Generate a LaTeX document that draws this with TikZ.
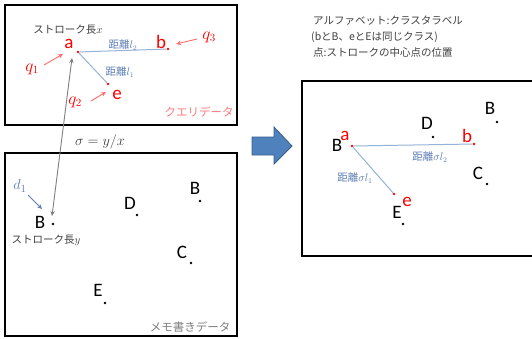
\documentclass[tikz,border=0pt]{standalone}
\usepackage{fontspec}
\setmainfont{Carlito}
\newfontfamily\jp{Noto Sans CJK JP}
\usetikzlibrary{arrows.meta}
\definecolor{pinkarrow}{HTML}{FF6B6B}
\definecolor{pinktext}{HTML}{FF7C80}
\definecolor{lineblue}{HTML}{95B3D7}
\definecolor{lblblue}{HTML}{5B7DB4}
\definecolor{dgray}{HTML}{404040}
\definecolor{mgray}{HTML}{7F7F7F}
\definecolor{arrowblue}{HTML}{4F81BD}
\definecolor{arrowedge}{HTML}{385D8A}
\begin{document}
\begin{tikzpicture}[x=1pt,y=-1pt,
  frame/.style={draw=black,line width=1.6pt},
  dotk/.style={circle,fill=black,inner sep=0pt,minimum size=2.6pt},
  dotr/.style={circle,fill=red,inner sep=0pt,minimum size=2.8pt},
  big/.style={inner sep=0pt,font=\fontsize{19}{19}\selectfont},
  redlbl/.style={big,text=red},
  qlbl/.style={inner sep=0pt,text=red,font=\fontsize{16}{16}\selectfont},
  dist/.style={inner sep=0pt,text=lblblue,font=\jp\fontsize{10.5}{10.5}\selectfont},
  note/.style={inner sep=0pt,text=dgray,font=\jp\fontsize{10.5}{10.5}\selectfont},
  conn/.style={draw=lineblue,line width=1pt},
  parrow/.style={draw=pinkarrow,line width=0.9pt,-{Stealth[length=5pt,width=4.5pt]}},
  garrow/.style={draw=mgray,line width=0.9pt,{Stealth[length=5pt,width=4.5pt]}-{Stealth[length=5pt,width=4.5pt]}},
  barrow/.style={draw=lblblue,line width=0.9pt,-{Stealth[length=5pt,width=4.5pt]}}]
\useasboundingbox (0,0) rectangle (532,338);
\fill[white] (0,0) rectangle (532,338);
% frames
\draw[frame] (5,5) rectangle (237,125);
\draw[frame] (5,153) rectangle (237,336);
\begin{scope}
\clip (0,0) rectangle (532,338);
\draw[frame] (302,81) rectangle (545,256);
\end{scope}
% ---------- query data ----------
\node[note] (sx) at (68,30) {ストローク長$x$};
\node[dotr] (qa) at (78,52) {};
\node[dotr] (qb) at (168,49) {};
\node[dotr] (qe) at (108,84) {};
\node[redlbl] (la) at (69,44) {a};
\node[redlbl] (lb) at (161,42) {b};
\node[redlbl] (le) at (117,95) {e};
\draw[conn] (qa) -- (qb);
\draw[conn] (qa) -- (qe);
\node[dist] (d2) at (123,45) {距離$l_2$};
\node[dist] (d1) at (120,72) {距離$l_1$};
\node[qlbl] (q1) at (32,69) {$q_1$};
\node[qlbl] (q2) at (75,102) {$q_2$};
\node[qlbl] (q3) at (209,37) {$q_3$};
\coordinate (q1s) at (44,65); \coordinate (q1e) at (63,54);
\coordinate (q2s) at (91,101); \coordinate (q2e) at (106,92);
\coordinate (q3s) at (197,39); \coordinate (q3e) at (176,44);
\draw[parrow] (q1s) -- (q1e);
\draw[parrow] (q2s) -- (q2e);
\draw[parrow] (q3s) -- (q3e);
\node[inner sep=0pt,text=pinktext,font=\jp\fontsize{11.5}{11.5}\selectfont] (qd) at (199,112) {クエリデータ};
% ---------- sigma ----------
\node[inner sep=0pt,text=dgray,font=\fontsize{14}{14}\selectfont] (sig) at (100,142) {$\sigma = y/x$};
% ---------- memo data ----------
\node[dotk] (mB) at (53,224) {};
\node[big] (lmB) at (40,222) {B};
\node[note] (sy) at (46,240) {ストローク長$y$};
\coordinate (xtop) at (72,58);
\coordinate (ybot) at (52,216);
\draw[garrow] (xtop) -- (ybot);
\node[inner sep=0pt,text=lblblue,font=\fontsize{15}{15}\selectfont] (dd1) at (20,186) {$d_1$};
\coordinate (d1s) at (28,195); \coordinate (d1e) at (42,209);
\draw[barrow] (d1s) -- (d1e);
\node[big] (lmD) at (130,203) {D};
\node[dotk] (mD) at (137,215) {};
\node[big] (lmB2) at (195,188) {B};
\node[dotk] (mB2) at (200,201) {};
\node[big] (lmC) at (182,252) {C};
\node[dotk] (mC) at (191,263) {};
\node[big] (lmE) at (98,290) {E};
\node[dotk] (mE) at (105,303) {};
\node[inner sep=0pt,text=mgray,font=\jp\fontsize{11.5}{11.5}\selectfont] (md) at (190,327) {メモ書きデータ};
% ---------- big blue arrow ----------
\draw[fill=arrowblue,draw=arrowedge,line width=0.8pt] (252,137) -- (274,137) -- (274,127) -- (292,146) -- (274,164) -- (274,155) -- (252,155) -- cycle;
% ---------- legend ----------
\node[note,anchor=west] (t1) at (313,21) {アルファベット:クラスタラベル};
\node[note,anchor=west] (t2) at (311,37) {(bとB、eとEは同じクラス)};
\node[note,anchor=west] (t3) at (313,53) {点:ストロークの中心点の位置};
% ---------- right box ----------
\node[big] (rB1) at (490,108) {B};
\node[dotk] (rB1d) at (497,122) {};
\node[big] (rD) at (427,123) {D};
\node[dotk] (rDd) at (433,137) {};
\node[big] (rB2) at (337,145) {B};
\node[redlbl] (ra) at (345,136) {a};
\node[dotr] (rad) at (352,146) {};
\node[redlbl] (rb) at (467,136) {b};
\node[dotr] (rbd) at (474,144) {};
\node[dotr] (red) at (394,194) {};
\node[redlbl] (re) at (407,202) {e};
\node[big] (rE) at (397,212) {E};
\node[dotk] (rEd) at (403,224) {};
\node[big] (rC) at (478,173) {C};
\node[dotk] (rCd) at (487,184) {};
\draw[conn] (rad) -- (rbd);
\draw[conn] (rad) -- (red);
\node[dist] (rd2) at (430,157) {距離$\sigma l_2$};
\node[dist] (rd1) at (355,178) {距離$\sigma l_1$};
\end{tikzpicture}
\end{document}
